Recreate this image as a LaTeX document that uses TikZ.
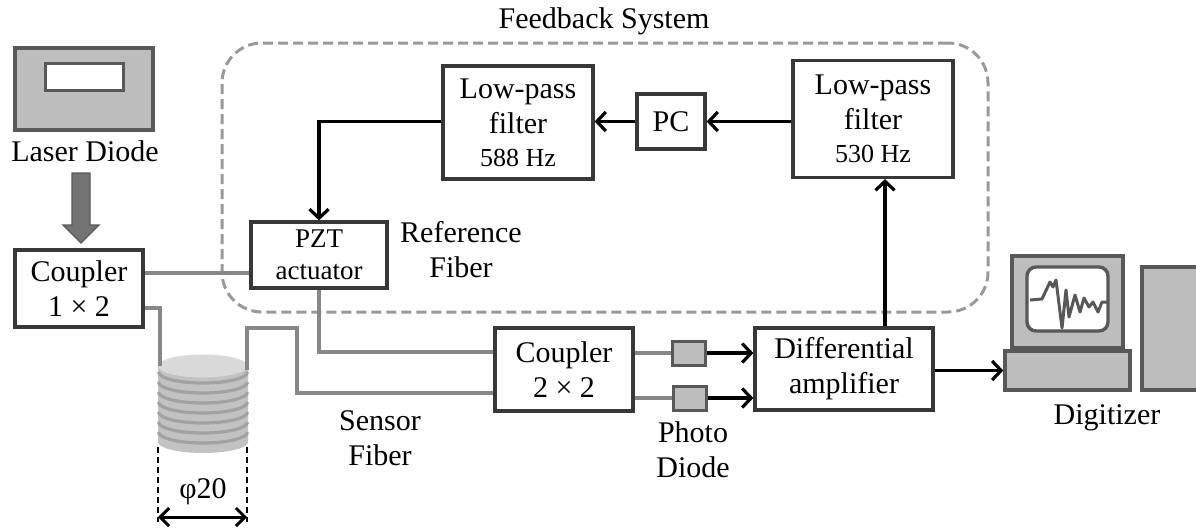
\documentclass[tikz,border=0pt]{standalone}
\usepackage{fontspec}
\setmainfont{Liberation Serif}
\usetikzlibrary{arrows.meta,calc}

\definecolor{edge}{HTML}{383838}
\definecolor{fibre}{HTML}{878787}
\definecolor{devfill}{HTML}{BDBDBD}
\definecolor{devedge}{HTML}{585858}
\definecolor{dashc}{HTML}{999999}
\definecolor{coilbody}{HTML}{C2C2C2}
\definecolor{coilband}{HTML}{A2A2A2}
\definecolor{coiltop}{HTML}{D9D9D9}

\tikzset{
  big/.style={font=\fontsize{30}{35}\selectfont},
  small/.style={font=\fontsize{27}{32}\selectfont},
  unit/.style={draw=edge, line width=3.2pt, fill=white, align=center, inner sep=0pt, big},
  label/.style={align=center, inner sep=0pt, big},
  fiber/.style={draw=fibre, line width=4pt, line join=miter},
  signal/.style={draw=black, line width=3.2pt, -{Straight Barb[length=9pt,width=19pt]}},
  device/.style={draw=devedge, line width=3.4pt, fill=devfill, inner sep=0pt},
  detector/.style={draw=devedge, line width=3pt, fill=devfill, inner sep=0pt, minimum width=33pt, minimum height=24pt},
  fbbox/.style={draw=dashc, line width=3pt, dash pattern=on 10pt off 5pt, rounded corners=40pt, inner sep=0pt},
  dim/.style={draw=black, line width=2.4pt, dash pattern=on 6pt off 4pt},
}

\begin{document}
\begin{tikzpicture}[x=1pt, y=-1pt]
\useasboundingbox (0,0) rectangle (1196,528);

% feedback loop enclosure
\node[fbbox, minimum width=766pt, minimum height=269pt] (fb) at (605,177.5) {};
\node[label] (fbtitle) at (604,21) {Feedback System};

% laser diode
\node[device, minimum width=138pt, minimum height=82pt] (ld) at (84,89) {};
\node[draw=devedge, line width=3pt, fill=white, inner sep=0pt, minimum width=78pt, minimum height=27pt] (ldwin) at (84,76.5) {};
\node[label] (ldlabel) at (85,151) {Laser Diode};
\fill[draw=devedge, fill=fibre!85!black, line width=1.4pt]
  (72,173) -- (90,173) -- (90,225) -- (99,225) -- (81,243) -- (63,225) -- (72,225) -- cycle;

% optical units
\node[unit, minimum width=128pt, minimum height=77pt] (c1) at (79,288.5) {Coupler\\1 × 2};
\node[unit, minimum width=136pt, minimum height=66pt, small] (pzt) at (319,255) {PZT\\actuator};
\node[label] (reflabel) at (461,250) {Reference\\Fiber};
\node[unit, minimum width=138pt, minimum height=83pt] (c2) at (564,369.5) {Coupler\\2 × 2};
\node[label] (senslabel) at (380,438) {Sensor\\Fiber};

% feedback electronics
\node[unit, minimum width=150pt, minimum height=113pt] (lp1) at (518,122.5)
  {Low-pass\\filter\\[-2pt]{\fontsize{26}{30}\selectfont 588 Hz}};
\node[unit, minimum width=68pt, minimum height=55pt] (pc) at (671,121.5) {PC};
\node[unit, minimum width=160pt, minimum height=117pt] (lp2) at (873,119)
  {Low-pass\\filter\\[-2pt]{\fontsize{26}{30}\selectfont 530 Hz}};
\node[unit, minimum width=178pt, minimum height=82pt] (amp) at (844,369) {Differential\\amplifier};

% photo diodes
\node[detector] (pd1) at (689,353) {};
\node[detector] (pd2) at (690,398) {};
\node[label] (pdlabel) at (693,450) {Photo\\Diode};

% fibre coil
\fill[coilbody] (158,366) -- (158,442) arc[start angle=180, end angle=0, x radius=45, y radius=11] -- (248,366) -- cycle;
\foreach \yc in {372,382,...,432}
  \draw[coilband, line width=3.2pt] (158.5,\yc) arc[start angle=180, end angle=0, x radius=44.5, y radius=11];
\fill[coiltop] (203,366) ellipse [x radius=45, y radius=11.5];
\coordinate (coilL) at (160,366);
\coordinate (coilR) at (247,370);

% fibre routes
\coordinate (y1) at (0,273);
\coordinate (y2) at (0,308);
\coordinate (s1) at (297,328);
\coordinate (y3) at (0,352);
\coordinate (y4) at (0,393);
\draw[fiber] (c1.east |- y1) -- (pzt.west |- y1);
\draw[fiber] (c1.east |- y2) -| (coilL);
\draw[fiber] (coilR) |- (s1) |- (c2.west |- y4);
\draw[fiber] (pzt.south) |- (c2.west |- y3);
\draw[fiber] (c2.east |- pd1) -- (pd1.west);
\draw[fiber] (c2.east |- pd2) -- (pd2.west);

% coil diameter
\coordinate (d1) at (158,447);
\coordinate (d2) at (247,447);
\coordinate (dy) at (0,522);
\coordinate (ay) at (0,517);
\draw[dim] (d1) -- (d1 |- dy);
\draw[dim] (d2) -- (d2 |- dy);
\draw[black, line width=3pt, {Straight Barb[length=9pt,width=18pt]}-{Straight Barb[length=9pt,width=18pt]}] (d1 |- ay) -- (d2 |- ay);
\node[label] (dimlabel) at (203,492) {φ20};

% digitizer
\node[device, minimum width=111pt, minimum height=92pt] (mon) at (1067.5,302) {};
\draw[draw=devedge, fill=white, line width=3.4pt, rounded corners=9pt] (1027,267) rectangle (1108,331);
\draw[devedge, line width=3pt, line join=round]
  (1030,300) -- (1042,299) -- (1050,282) -- (1053,287) -- (1056,280) -- (1062,328) -- (1066,290)
  -- (1069,317) -- (1075,295) -- (1080,312) -- (1084,298) -- (1089,307) -- (1093,302)
  -- (1098,312) -- (1102,302) -- (1107,302);
\node[device, minimum width=125pt, minimum height=39pt] (base) at (1067.5,370.5) {};
\node[device, minimum width=70pt, minimum height=123pt] (tower) at (1177,328.5) {};
\node[label] (diglabel) at (1107,418) {Digitizer};

% electrical signals
\coordinate (upx) at (885,0);
\draw[signal] (lp2.west |- pc.east) -- (pc.east);
\draw[signal] (pc.west) -- (lp1.east |- pc.west);
\draw[signal] (lp1.west |- pc.west) -| (pzt.north);
\draw[signal] (amp.north -| upx) -- (lp2.south -| upx);
\draw[signal] (pd1.east) -- (pd1.east -| amp.west);
\draw[signal] (pd2.east) -- (pd2.east -| amp.west);
\draw[signal] (amp.east |- base.west) -- (base.west);
\end{tikzpicture}
\end{document}
